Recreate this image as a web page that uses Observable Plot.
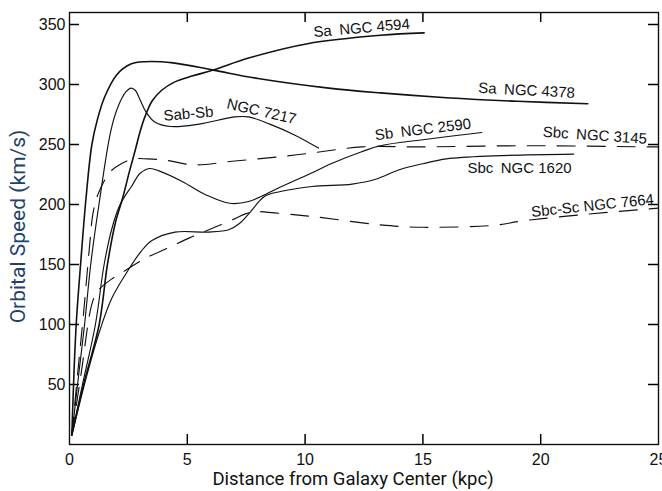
<!DOCTYPE html>
<html>
<head>
<meta charset="utf-8">
<script src="https://cdn.jsdelivr.net/npm/d3@7"></script>
<script src="https://cdn.jsdelivr.net/npm/@observablehq/plot@0.6"></script>
<style>
  html, body { margin: 0; padding: 0; background: #fff; overflow: hidden; }
  #chart svg { display: block; }
</style>
</head>
<body>
<div id="chart"></div>
<script>
// ---- data (radius in kpc, orbital speed in km/s) ----
const ngc4594_r = [0.1, 0.6, 1.26, 1.61, 1.95, 2.25, 2.55, 2.8, 3.0, 3.2, 3.5, 3.9, 4.45, 5.2, 6.1, 7.6, 10.1, 13.2, 15.05];
const ngc4594_v = [8, 50, 100, 150, 185, 205, 228, 246, 261, 273, 286, 295, 302, 307, 312, 322, 334, 341, 343];

const ngc4378_r = [0.1, 0.2, 0.3, 0.47, 0.7, 0.95, 1.2, 1.5, 2.0, 2.6, 3.2, 4.4, 6.1, 8.0, 11.0, 13.2, 16.0, 19.0, 22.0];
const ngc4378_v = [8, 65, 105, 150, 205, 250, 272, 290, 308, 317, 319, 318, 312, 305, 297, 293, 289, 286, 284];

const ngc7217_r = [0.1, 0.4, 0.64, 0.9, 1.25, 1.75, 2.05, 2.4, 2.62, 2.8, 3.0, 3.25, 3.6, 4.3, 5.5, 7.0, 7.6, 8.5, 9.55, 10.57];
const ngc7217_v = [8, 60, 100, 150, 200, 261, 281, 294, 297, 295, 287, 277, 269, 265, 267, 273, 273, 267, 258, 247];

const ngc2590_r = [0.1, 0.55, 1.1, 1.47, 1.8, 2.1, 2.35, 2.63, 3.0, 3.4, 3.8, 4.8, 5.8, 6.8, 7.6, 9.0, 10.25, 11.1, 12.4, 13.2, 15.0, 17.5];
const ngc2590_v = [8, 50, 100, 150, 180, 198, 207, 215, 226, 230, 228, 219, 208, 201, 202.5, 215, 226, 234, 244, 249, 254, 260];

const ngc3145_r = [0.1, 0.35, 0.6, 0.85, 1.0, 1.2, 1.72, 2.2, 2.75, 3.3, 4.06, 5.3, 6.9, 9.0, 10.3, 12.4, 15.0, 19.6, 24.6, 25.0];
const ngc3145_v = [8, 60, 110, 165, 193, 208, 227, 234, 238, 238, 237, 233, 236, 240, 243, 248, 248, 249, 248, 248];

const ngc1620_r = [0.1, 0.7, 1.27, 1.8, 2.45, 3.04, 3.5, 4.48, 5.9, 6.76, 7.2, 7.6, 8.3, 9.0, 10.3, 12.0, 13.0, 14.0, 15.0, 16.0, 18.0, 21.4];
const ngc1620_v = [8, 55, 94, 122, 144, 161, 170, 177, 177, 179, 184, 192, 207, 211, 215, 217, 221, 229, 234, 238, 240.5, 242];

const ngc7664_r = [0.1, 0.5, 0.95, 1.2, 1.8, 2.45, 3.2, 4.2, 5.07, 6.04, 7.0, 7.44, 7.86, 8.7, 10.3, 13.2, 15.0, 18.2, 19.1, 22.0, 25.0];
const ngc7664_v = [8, 60, 117, 128, 138, 146, 155, 164, 172, 180, 188, 192, 194, 193, 190, 183, 181, 183, 186, 192, 197];

const galaxyNames = ["NGC 4594", "NGC 4378", "NGC 7217", "NGC 2590", "NGC 3145", "NGC 1620", "NGC 7664"];
const galaxyTypes = ["Sa", "Sa", "Sab-Sb", "Sb", "Sbc", "Sbc", "Sbc-Sc"];
const radii  = [ngc4594_r, ngc4378_r, ngc7217_r, ngc2590_r, ngc3145_r, ngc1620_r, ngc7664_r];
const speeds = [ngc4594_v, ngc4378_v, ngc7217_v, ngc2590_v, ngc3145_v, ngc1620_v, ngc7664_v];

const xTicks = [0, 5, 10, 15, 20, 25];
const yTicks = [50, 100, 150, 200, 250, 300, 350];
const xTitle = "Distance from Galaxy Center (kpc)";
const yTitle = "Orbital Speed (km/s)";

// ---- build table ----
const rows = galaxyNames.flatMap((name, i) =>
  radii[i].map((r, j) => ({name, r, v: speeds[i][j]})));

// styles (kept separate from the data)
const dashed = new Set(["NGC 3145", "NGC 7664"]);
const thick = new Set(["NGC 4594", "NGC 4378"]);

// curve annotations: anchor (data units) + rotation
const labelPlacement = {
  "NGC 4594": {r: 12.4, v: 347, rot: -5},
  "NGC 4378": {r: 19.4, v: 295, rot: 3},
  "NGC 2590": {r: 15.0, v: 262.5, rot: -7},
  "NGC 3145": {r: 22.3, v: 257.5, rot: 4},
  "NGC 1620": {r: 19.1, v: 230, rot: 0},
  "NGC 7664": {r: 22.2, v: 199, rot: -6}
};
const labels = [];
galaxyNames.forEach((name, i) => {
  if (name === "NGC 7217") return;
  const p = labelPlacement[name];
  const sep = galaxyTypes[i] === "Sbc-Sc" ? " " : "\u2002";
  labels.push({text: galaxyTypes[i] + sep + name, r: p.r, v: p.v, rot: p.rot});
});
// NGC 7217 label follows the bend of its curve: two parts
labels.push({text: galaxyTypes[2], r: 5.05, v: 275.5, rot: -5});
labels.push({text: galaxyNames[2], r: 8.15, v: 277.5, rot: 13});

const font = "'Liberation Sans', 'DejaVu Sans', sans-serif";
const titleFont = "Roboto, 'Noto Sans', sans-serif";
const ink = "#111";

// layout
const W = 662, H = 491, mL = 69, mR = 4, mT = 12, mB = 47;
const innerW = W - mL - mR, innerH = H - mT - mB;
const xDomain = [0, 25], yDomain = [0, 360];
const tickLen = 10;

const lineMarks = galaxyNames.map(name =>
  Plot.line(rows.filter(d => d.name === name), {
    x: "r", y: "v",
    curve: "catmull-rom",
    stroke: ink,
    strokeWidth: thick.has(name) ? 1.6 : 1.15,
    strokeDasharray: dashed.has(name) ? "18,12" : null
  }));

const innerX = xTicks.slice(1, -1);
const tickStyle = {stroke: "black", strokeWidth: 1.5};
const chart = Plot.plot({
  width: W,
  height: H,
  marginLeft: mL,
  marginRight: mR,
  marginTop: mT,
  marginBottom: mB,
  x: {domain: xDomain},
  y: {domain: yDomain},
  style: {fontFamily: font, background: "#fff"},
  marks: [
    Plot.frame({stroke: ink, strokeWidth: 1.4}),
    // inward tick marks on all four sides (pixel insets from the frame)
    Plot.tickX(innerX, {x: d => d, insetTop: innerH - tickLen, ...tickStyle}),
    Plot.tickX(innerX, {x: d => d, insetBottom: innerH - tickLen, ...tickStyle}),
    Plot.tickY(yTicks, {y: d => d, insetRight: innerW - tickLen, ...tickStyle}),
    Plot.tickY(yTicks, {y: d => d, insetLeft: innerW - tickLen, ...tickStyle}),
    // tick labels
    Plot.axisX({anchor: "bottom", ticks: xTicks, tickSize: 0, tickPadding: 9, label: null, fontSize: 16, fill: ink}),
    Plot.axisY({anchor: "left", ticks: yTicks, tickSize: 0, tickPadding: 4, label: null, fontSize: 16, fill: ink}),
    // curves
    ...lineMarks,
    // curve annotations
    Plot.text(labels, {x: "r", y: "v", text: "text", rotate: "rot", fontSize: 15, fill: ink}),
    // axis titles
    Plot.text([xTitle], {frameAnchor: "bottom", textAnchor: "middle", lineAnchor: "middle", dx: -11, dy: 35,
      fontSize: 18.5, fill: ink, fontFamily: titleFont}),
    Plot.text([yTitle], {frameAnchor: "left", textAnchor: "middle", lineAnchor: "middle", dx: -51, dy: -2, rotate: -90,
      fontSize: 21, fill: "#23406e", fontFamily: titleFont})
  ]
});
document.getElementById("chart").appendChild(chart);
</script>
</body>
</html>
